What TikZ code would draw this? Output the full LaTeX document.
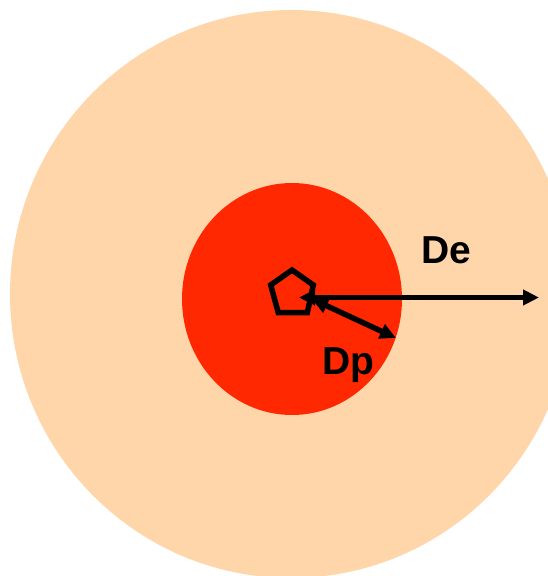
\documentclass[tikz,border=0pt]{standalone}
\usepackage{fontspec}
\setmainfont{Liberation Sans}
\usetikzlibrary{arrows.meta}
\definecolor{peach}{RGB}{255,213,170}
\definecolor{redcore}{RGB}{255,40,0}
\begin{document}
\begin{tikzpicture}[x=1pt,y=-1pt,
  dim/.style={line width=5.5pt, {Triangle[length=16pt,width=15pt]}-{Triangle[length=16pt,width=15pt]}},
  lbl/.style={font=\fontsize{39}{39}\selectfont\bfseries, inner sep=0pt, anchor=base west}]
\useasboundingbox (0,0) rectangle (548,576);
\fill[peach] (291,294) ellipse [x radius=281pt, y radius=284pt];
\fill[redcore] (292,299) ellipse [x radius=110pt, y radius=116pt];
\draw[line width=5.5pt, line join=miter] (292,270) -- (313.3,285) -- (307.3,312.7) -- (278.3,312.7) -- (270.7,285) -- cycle;
\coordinate (c1) at (299,297.5);
\coordinate (e1) at (539,297.5);
\coordinate (c2) at (312,299);
\coordinate (p1) at (396,338);
\draw[dim] (c1) -- (e1);
\draw[dim] (c2) -- (p1);
\node[lbl] (de) at (421,263) {De};
\node[lbl] (dp) at (322,374) {Dp};
\end{tikzpicture}
\end{document}
